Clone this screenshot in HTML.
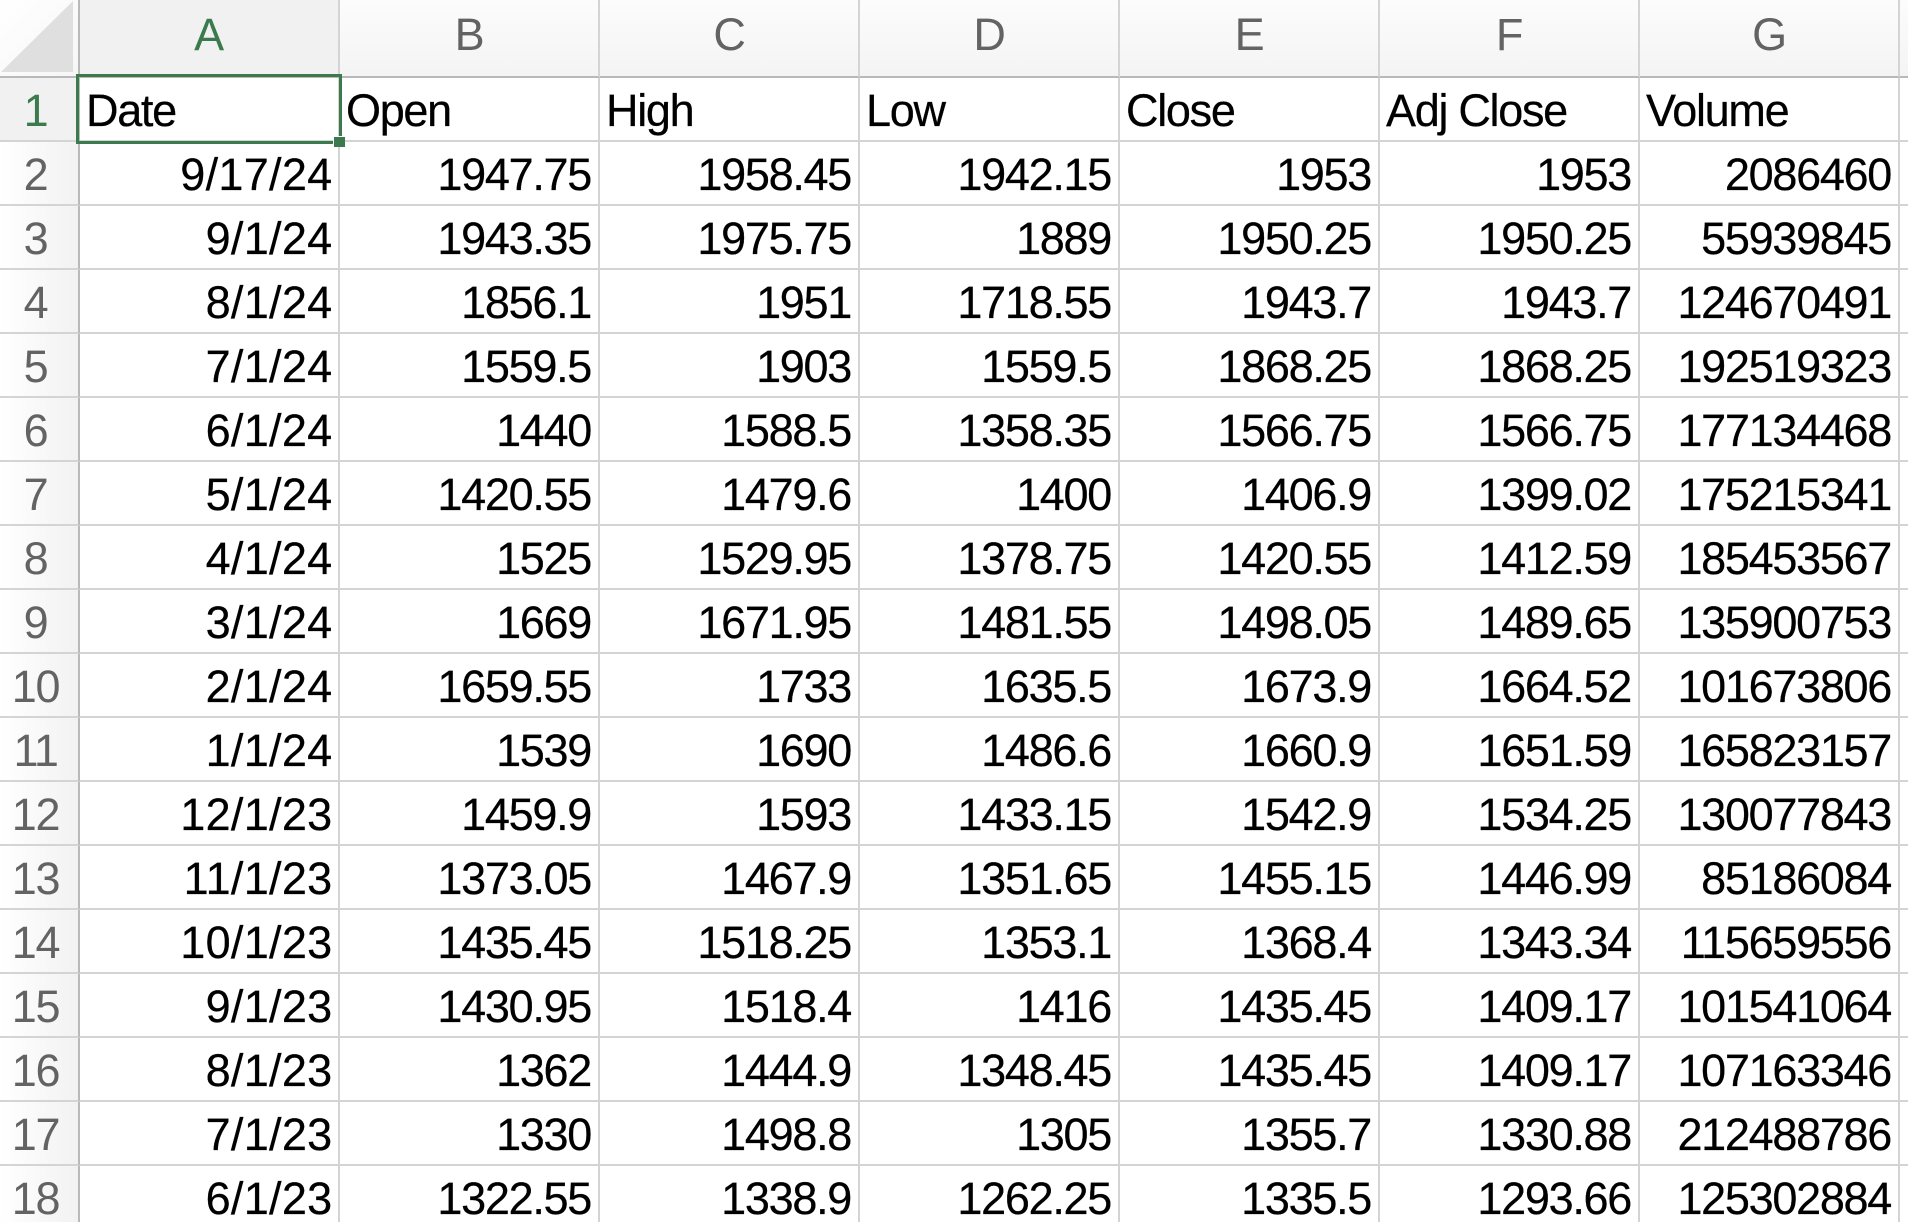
<!DOCTYPE html>
<html lang="en">
<head>
<meta charset="utf-8">
<title>Stock price spreadsheet</title>
<style>
html,body{margin:0;padding:0;background:#fff;}
#sheet{position:relative;width:1908px;height:1222px;overflow:hidden;background:#fff;font-family:"Liberation Sans",sans-serif;font-size:45px;letter-spacing:-1.3px;color:#000;}
#grid{display:grid;grid-template-columns:80px repeat(7,260px) 8px;grid-template-rows:78px repeat(18,64px);}
#grid>div{box-sizing:border-box;border-right:2px solid #d4d4d4;border-bottom:2px solid #d4d4d4;line-height:66px;height:64px;padding:0 7px 0 8px;white-space:nowrap;overflow:hidden;text-align:right;-webkit-text-stroke:0.25px #000;}
#grid>div:nth-child(9n+2):not(.h):not(.t){letter-spacing:0.3px;padding-right:5.5px;}
#grid>.h{height:78px;line-height:69px;text-align:center;color:#636363;padding:0;background:linear-gradient(#fcfcfc,#f4f4f4);border-bottom-color:#b9b9b9;-webkit-text-stroke:0;}
#grid>.h.sel{color:#3a7a4c;background:#f1f1f1;padding-right:1px;}
#grid>.corner{background:linear-gradient(135deg,#fff,#f6f6f6);border-right-color:#b9b9b9;position:relative;}
#grid>.r{text-align:center;color:#636363;padding:0 7px 0 0;background:linear-gradient(90deg,#fff,#f2f2f2);border-right-color:#b9b9b9;-webkit-text-stroke:0;}
#grid>.r.sel{color:#3a7a4c;background:#f1f1f1;}
#grid>.t{text-align:left;padding-left:6px;}
#grid>.x{padding:0;border-right:none;}
#tri{position:absolute;left:1px;top:1px;width:72px;height:71px;background:#dfdfdf;clip-path:polygon(100% 0,100% 100%,0 100%);}
#sel-box{position:absolute;left:76px;top:74px;width:266px;height:70px;box-sizing:border-box;border:3.5px solid #3a7a4c;}
#sel-handle{position:absolute;left:333px;top:136px;width:11px;height:10px;background:#3a7a4c;border-left:1px solid #fff;border-top:1px solid #fff;}
</style>
</head>
<body>
<div id="sheet">
<div id="grid">
<div class="h corner"><div id="tri"></div></div>
<div class="h sel">A</div>
<div class="h">B</div>
<div class="h">C</div>
<div class="h">D</div>
<div class="h">E</div>
<div class="h">F</div>
<div class="h">G</div>
<div class="h x"></div>

<div class="r sel">1</div>
<div class="t">Date</div>
<div class="t">Open</div>
<div class="t">High</div>
<div class="t">Low</div>
<div class="t">Close</div>
<div class="t">Adj Close</div>
<div class="t">Volume</div>
<div class="x"></div>

<div class="r">2</div>
<div>9/17/24</div>
<div>1947.75</div>
<div>1958.45</div>
<div>1942.15</div>
<div>1953</div>
<div>1953</div>
<div>2086460</div>
<div class="x"></div>

<div class="r">3</div>
<div>9/1/24</div>
<div>1943.35</div>
<div>1975.75</div>
<div>1889</div>
<div>1950.25</div>
<div>1950.25</div>
<div>55939845</div>
<div class="x"></div>

<div class="r">4</div>
<div>8/1/24</div>
<div>1856.1</div>
<div>1951</div>
<div>1718.55</div>
<div>1943.7</div>
<div>1943.7</div>
<div>124670491</div>
<div class="x"></div>

<div class="r">5</div>
<div>7/1/24</div>
<div>1559.5</div>
<div>1903</div>
<div>1559.5</div>
<div>1868.25</div>
<div>1868.25</div>
<div>192519323</div>
<div class="x"></div>

<div class="r">6</div>
<div>6/1/24</div>
<div>1440</div>
<div>1588.5</div>
<div>1358.35</div>
<div>1566.75</div>
<div>1566.75</div>
<div>177134468</div>
<div class="x"></div>

<div class="r">7</div>
<div>5/1/24</div>
<div>1420.55</div>
<div>1479.6</div>
<div>1400</div>
<div>1406.9</div>
<div>1399.02</div>
<div>175215341</div>
<div class="x"></div>

<div class="r">8</div>
<div>4/1/24</div>
<div>1525</div>
<div>1529.95</div>
<div>1378.75</div>
<div>1420.55</div>
<div>1412.59</div>
<div>185453567</div>
<div class="x"></div>

<div class="r">9</div>
<div>3/1/24</div>
<div>1669</div>
<div>1671.95</div>
<div>1481.55</div>
<div>1498.05</div>
<div>1489.65</div>
<div>135900753</div>
<div class="x"></div>

<div class="r">10</div>
<div>2/1/24</div>
<div>1659.55</div>
<div>1733</div>
<div>1635.5</div>
<div>1673.9</div>
<div>1664.52</div>
<div>101673806</div>
<div class="x"></div>

<div class="r">11</div>
<div>1/1/24</div>
<div>1539</div>
<div>1690</div>
<div>1486.6</div>
<div>1660.9</div>
<div>1651.59</div>
<div>165823157</div>
<div class="x"></div>

<div class="r">12</div>
<div>12/1/23</div>
<div>1459.9</div>
<div>1593</div>
<div>1433.15</div>
<div>1542.9</div>
<div>1534.25</div>
<div>130077843</div>
<div class="x"></div>

<div class="r">13</div>
<div>11/1/23</div>
<div>1373.05</div>
<div>1467.9</div>
<div>1351.65</div>
<div>1455.15</div>
<div>1446.99</div>
<div>85186084</div>
<div class="x"></div>

<div class="r">14</div>
<div>10/1/23</div>
<div>1435.45</div>
<div>1518.25</div>
<div>1353.1</div>
<div>1368.4</div>
<div>1343.34</div>
<div>115659556</div>
<div class="x"></div>

<div class="r">15</div>
<div>9/1/23</div>
<div>1430.95</div>
<div>1518.4</div>
<div>1416</div>
<div>1435.45</div>
<div>1409.17</div>
<div>101541064</div>
<div class="x"></div>

<div class="r">16</div>
<div>8/1/23</div>
<div>1362</div>
<div>1444.9</div>
<div>1348.45</div>
<div>1435.45</div>
<div>1409.17</div>
<div>107163346</div>
<div class="x"></div>

<div class="r">17</div>
<div>7/1/23</div>
<div>1330</div>
<div>1498.8</div>
<div>1305</div>
<div>1355.7</div>
<div>1330.88</div>
<div>212488786</div>
<div class="x"></div>

<div class="r">18</div>
<div>6/1/23</div>
<div>1322.55</div>
<div>1338.9</div>
<div>1262.25</div>
<div>1335.5</div>
<div>1293.66</div>
<div>125302884</div>
<div class="x"></div>
</div>
<div id="sel-box"></div>
<div id="sel-handle"></div>
</div>
</body>
</html>
